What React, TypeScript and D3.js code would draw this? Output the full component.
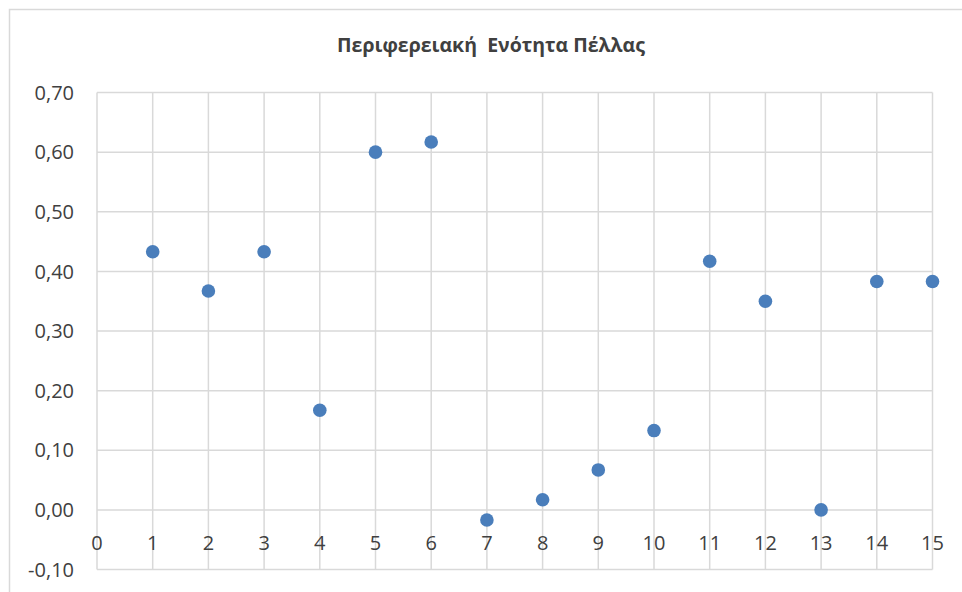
import React from "react";
import * as d3 from "d3";

const title = "Περιφερειακή  Ενότητα Πέλλας";
const xValues = [1, 2, 3, 4, 5, 6, 7, 8, 9, 10, 11, 12, 13, 14, 15];
const yValues = [0.433, 0.367, 0.433, 0.167, 0.6, 0.617, -0.017, 0.017, 0.067, 0.133, 0.417, 0.35, 0.0, 0.383, 0.383];
const xTicks = [0, 1, 2, 3, 4, 5, 6, 7, 8, 9, 10, 11, 12, 13, 14, 15];
const yTicks = [-0.1, 0, 0.1, 0.2, 0.3, 0.4, 0.5, 0.6, 0.7];

const W = 962;
const H = 592;
const left = 97;
const right = 932.5;
const top = 92.5;
const bottom = 569.5;
const font = "'Open Sans', 'DejaVu Sans', sans-serif";

export default function App() {
  const x = d3.scaleLinear().domain([0, 15]).range([left, right]);
  const y = d3.scaleLinear().domain([-0.1, 0.7]).range([bottom, top]);
  const fmt = (v: number) => d3.format(".2f")(v).replace(".", ",").replace("−", "-");
  return (
    <svg width={W} height={H} style={{ position: "absolute", left: 0, top: 0, background: "#fff" }}>
      <rect x={9.5} y={9.5} width={W + 10} height={H + 10} fill="#fff" stroke="#d9d9d9" strokeWidth={1.5} />
      <text x={491} y={52} textAnchor="middle" fontFamily={font} fontWeight="bold" fontSize={19.5} fill="#404040" style={{ whiteSpace: "pre" }}>
        {title}
      </text>
      {yTicks.map((t) => (
        <line key={"gy" + t} x1={left} x2={right} y1={y(t)} y2={y(t)} stroke="#d9d9d9" strokeWidth={1.5} />
      ))}
      {xTicks.map((t) => (
        <line key={"gx" + t} x1={x(t)} x2={x(t)} y1={top} y2={bottom} stroke="#d9d9d9" strokeWidth={1.5} />
      ))}
      {yTicks.map((t) => (
        <text key={"ly" + t} x={74} y={y(t)} dy="0.36em" textAnchor="end" fontFamily={font} fontSize={20} fill="#404040">
          {fmt(t)}
        </text>
      ))}
      {xTicks.map((t) => (
        <text key={"lx" + t} x={x(t)} y={550} textAnchor="middle" fontFamily={font} fontSize={20} fill="#404040">
          {t}
        </text>
      ))}
      {xValues.map((xv, i) => (
        <circle key={"p" + i} cx={x(xv)} cy={y(yValues[i])} r={6.8} fill="#4a7ebb" />
      ))}
    </svg>
  );
}
